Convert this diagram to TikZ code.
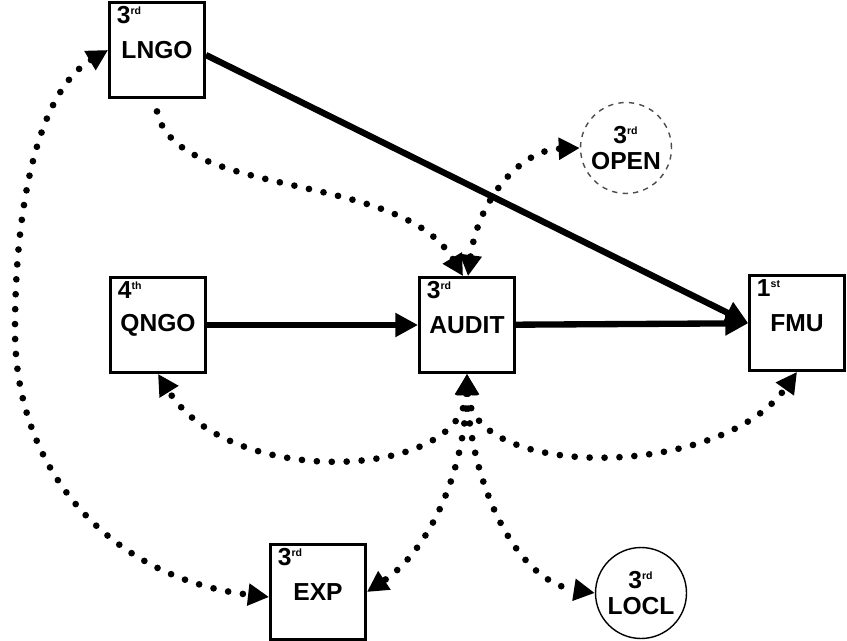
\documentclass[tikz,border=0pt]{standalone}
\usepackage{fontspec}
\setmainfont{Liberation Sans}
\usetikzlibrary{arrows.meta}
\newcommand{\ordn}[2]{#1\textsuperscript{\fontsize{6}{6}\selectfont #2}}
\begin{document}
\begin{tikzpicture}[x=0.02cm,y=0.02cm,
        font=\fontsize{14}{15}\selectfont\bfseries,
        agent/.style={draw,line width=1.6pt,minimum size=1.9cm,inner sep=0},
        other/.style={draw,circle,line width=0.8pt,minimum size=1.82cm,inner sep=0,align=center},
        flow/.style={line width=3.6pt,-{Triangle[length=13pt,width=13pt]}},
        dots/.style={line width=3.8pt,line cap=round,dash pattern=on 0pt off 8.5pt},
        link/.style={dots,{Triangle[length=12pt,width=12pt]}-{Triangle[length=12pt,width=12pt]}},
        rank/.style={anchor=north west,inner sep=0,xshift=0.17cm,yshift=-0.1cm},
        ]
        \useasboundingbox (0,0) rectangle (847,-641);

        \node[agent,label={[rank]north west:\ordn{3}{rd}}] (lngo) at (157,-50) {LNGO};
        \node[agent,label={[rank]north west:\ordn{4}{th}}] (qngo) at (158,-325) {QNGO};
        \node[agent,label={[rank]north west:\ordn{3}{rd}}] (audit) at (467,-325) {AUDIT};
        \node[agent,label={[rank]north west:\ordn{1}{st}}] (fmu) at (797,-323) {FMU};
        \node[agent,label={[rank]north west:\ordn{3}{rd}}] (exp) at (318,-592) {EXP};
        \node[other,dashed,draw=black!70] (open) at (626,-148) {\ordn{3}{rd}\\OPEN};
        \node[other] (locl) at (641,-593) {\ordn{3}{rd}\\LOCL};

        \draw[flow] ([yshift=-0.1cm]lngo.east) -- (fmu.west);
        \draw[flow] (qngo) -- (audit);
        \draw[flow] (audit) -- (fmu);

        \draw[dots,-{Triangle[length=12pt,width=12pt]}] ([yshift=-0.25cm]lngo.south)
            .. controls (175,-200) and (400,-170) .. ([xshift=-0.08cm]audit.north);
        \draw[link] ([xshift=0.02cm]audit.north) .. controls (478,-200) and (520,-150) .. (open.west);
        \draw[link] (audit.south) .. controls (462,-480) and (230,-490) .. (qngo.south);
        \draw[link] (audit.south) .. controls (472,-480) and (720,-480) .. (fmu.south);
        \draw[link] (audit.south) .. controls (465,-470) and (430,-550) .. (exp.east);
        \draw[link] (audit.south) .. controls (469,-470) and (510,-580) .. (locl.west);
        \draw[link] (lngo.west) .. controls (40,-90) and (15,-200) .. (15,-330)
                    .. controls (15,-480) and (120,-580) .. ([yshift=-0.1cm]exp.west);
\end{tikzpicture}
\end{document}
